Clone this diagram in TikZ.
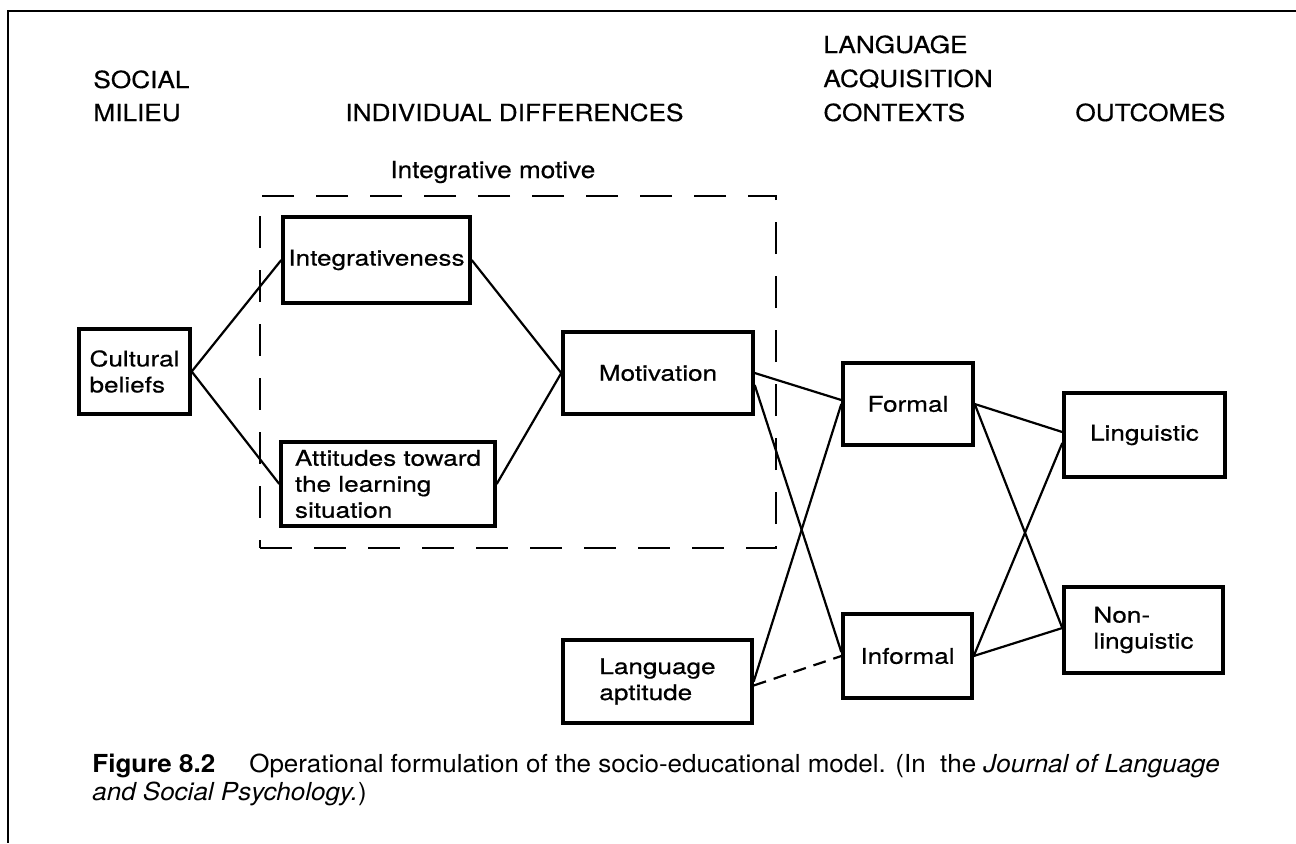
\documentclass[tikz,border=0pt]{standalone}
\usepackage{fontspec}
\setmainfont{TeX Gyre Heros}
\newfontfamily\hdrfont{TeX Gyre Heros}[FakeStretch=1.11, FakeBold=0.4]
\newfontfamily\boxfont{TeX Gyre Heros}[FakeStretch=1.21, FakeBold=0.5]
\newfontfamily\capfont{TeX Gyre Heros}[FakeStretch=1.048]
\usetikzlibrary{calc}
\begin{document}
\begin{tikzpicture}[x=0.5pt,y=-0.5pt,
  stagebox/.style={draw, line width=1.7pt, inner sep=0pt, align=left,
    font=\boxfont\fontsize{10.8}{13}\selectfont},
  hdr/.style={anchor=base west, inner sep=0pt, font=\hdrfont\fontsize{11.8}{14}\selectfont},
  link/.style={line width=1.1pt},
  dlink/.style={line width=1.1pt, dash pattern=on 6.5pt off 4pt},
  motivebox/.style={draw, line width=1.1pt, dash pattern=on 16pt off 11pt, inner sep=0pt},
  captxt/.style={anchor=base west, inner sep=0pt, font=\capfont\fontsize{12.4}{14}\selectfont}
]
\useasboundingbox (0,0) rectangle (1296,843);
\fill[white] (0,0) rectangle (1296,843);
% frame
\coordinate (ftr) at (1296,11);
\coordinate (ftl) at (8,11);
\coordinate (fbl) at (8,843);
\draw[line width=1.2pt] (ftr) -- (ftl) -- (fbl);

% headers
\node[hdr] (h1) at (93,88) {SOCIAL};
\node[hdr] (h2) at (93,121) {MILIEU};
\node[hdr] (h3) at (345,121) {INDIVIDUAL DIFFERENCES};
\node[hdr] (h4) at (823,53) {LANGUAGE};
\node[hdr] (h5) at (823,87) {ACQUISITION};
\node[hdr] (h6) at (823,121) {CONTEXTS};
\node[hdr] (h7) at (1075,121) {OUTCOMES};
\node[hdr] (imlab) at (390,178) {Integrative motive};

% dashed integrative motive box
\node[motivebox, minimum width=258pt, minimum height=176pt] (im) at (518,372) {};

% boxes
\node[stagebox, minimum width=55.5pt, minimum height=42.5pt] (cult) at (134.5,371.5) {Cultural\\beliefs};
\node[stagebox, minimum width=93.5pt, minimum height=43pt] (integ) at (376.5,260) {Integrativeness};
\node[stagebox, minimum width=107pt, minimum height=42pt] (att) at (388,484) {Attitudes toward\\the learning\\situation};
\node[stagebox, minimum width=95pt, minimum height=41pt] (motiv) at (658,373) {Motivation};
\node[stagebox, minimum width=94.5pt, minimum height=41.5pt] (apt) at (657.5,681.5) {Language\\aptitude};
\node[stagebox, minimum width=65pt, minimum height=41pt] (formal) at (908,404) {Formal};
\node[stagebox, minimum width=64.5pt, minimum height=42pt] (informal) at (907.5,656) {Informal};
\node[stagebox, minimum width=80.5pt, minimum height=42pt] (ling) at (1144.5,435) {Linguistic};
\node[stagebox, minimum width=79.5pt, minimum height=43pt] (nonling) at (1143.5,630) {Non-\\linguistic};

% connectors
\draw[link] (cult.east) -- (integ.west);
\draw[link] (cult.east) -- (att.west);
\draw[link] (integ.east) -- (motiv.west);
\draw[link] (att.east) -- (motiv.west);
\draw[link] (motiv.east) -- ($(formal.west)+(0,-4)$);
\draw[link] ($(motiv.east)+(0,12)$) -- ($(informal.west)+(0,-4)$);
\draw[link] (apt.east) -- (formal.west);
\draw[dlink] ($(apt.east)+(0,4)$) -- (informal.west);
\draw[link] (formal.east) -- ($(ling.west)+(0,-3)$);
\draw[link] (formal.east) -- ($(nonling.west)+(0,-2)$);
\draw[link] (informal.east) -- ($(ling.west)+(0,8)$);
\draw[link] (informal.east) -- ($(nonling.west)+(0,-2)$);

% caption
\node[captxt] (cap1) at (92,772) {\textbf{Figure 8.2}\hspace{17pt}Operational formulation of the socio-educational model. (In\ \ the \textit{Journal of Language}};
\node[captxt] (cap2) at (92,800) {\textit{and Social Psychology.})};
\end{tikzpicture}
\end{document}
